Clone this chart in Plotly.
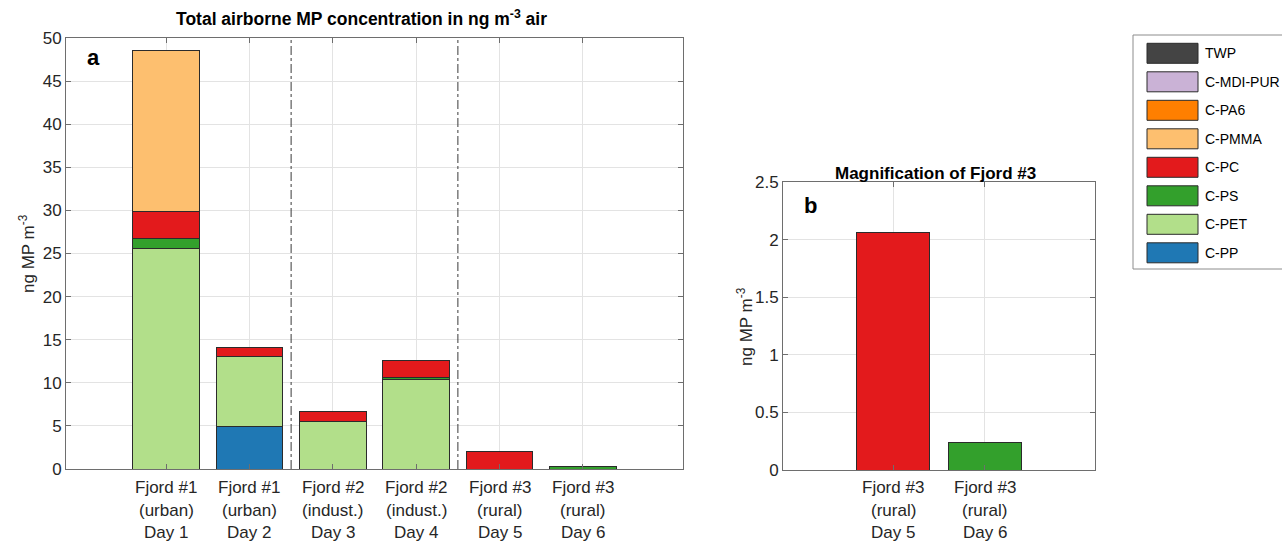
import plotly.graph_objects as go

W, H = 1282, 542

# ---------------- data ----------------
days = ["Day 1", "Day 2", "Day 3", "Day 4", "Day 5", "Day 6"]
fjords = ["Fjord #1", "Fjord #1", "Fjord #2", "Fjord #2", "Fjord #3", "Fjord #3"]
sites = ["(urban)", "(urban)", "(indust.)", "(indust.)", "(rural)", "(rural)"]

# stacking order bottom -> top
series_names = ["C-PP", "C-PET", "C-PS", "C-PC", "C-PMMA", "C-PA6", "C-MDI-PUR", "TWP"]
c_pp = [0, 4.95, 0, 0, 0, 0]
c_pet = [25.6, 8.1, 5.5, 10.4, 0, 0]
c_ps = [1.1, 0, 0, 0.25, 0, 0.24]
c_pc = [3.15, 1.1, 1.15, 1.9, 2.06, 0]
c_pmma = [18.75, 0, 0, 0, 0, 0]
c_pa6 = [0, 0, 0, 0, 0, 0]
c_mdi = [0, 0, 0, 0, 0, 0]
twp = [0, 0, 0, 0, 0, 0]
series_values = [c_pp, c_pet, c_ps, c_pc, c_pmma, c_pa6, c_mdi, twp]
series_colors = ["#1f78b4", "#b2df8a", "#33a02c", "#e31a1c", "#fdbf6f", "#ff7f00", "#cab2d6", "#444444"]

yticks_a = [0, 5, 10, 15, 20, 25, 30, 35, 40, 45, 50]
yticks_b = [0, 0.5, 1, 1.5, 2, 2.5]
ytick_text_b = ["0", "0.5", "1", "1.5", "2", "2.5"]
magnified = [4, 5]  # indices of Day 5 and Day 6

FONT = "Liberation Sans, Arial, sans-serif"
TXT = "#262626"
AX = "#6e6e6e"
GRID = "#e3e3e3"


def px(x):
    return x / W


def py(y):
    return 1 - y / H


fig = go.Figure()
xa = list(range(1, len(days) + 1))
xb = [1, 2]
for name, vals, col in zip(series_names, series_values, series_colors):
    fig.add_trace(go.Bar(
        x=xa, y=[v if v else None for v in vals], name=name, marker_color=col,
        marker_line=dict(color="#2b2b2b", width=1), width=0.8, showlegend=False,
        xaxis="x", yaxis="y"))
    fig.add_trace(go.Bar(
        x=xb, y=[vals[i] if vals[i] else None for i in magnified], name=name,
        marker_color=col, marker_line=dict(color="#2b2b2b", width=1), width=0.8,
        showlegend=False, xaxis="x2", yaxis="y2"))

axis_common = dict(showline=True, linecolor=AX, linewidth=1, mirror="ticks",
                   ticks="inside", ticklen=5, tickcolor=AX, showgrid=True,
                   gridcolor=GRID, gridwidth=1, zeroline=False, automargin=False,
                   tickfont=dict(family=FONT, size=17, color=TXT))

fig.update_layout(
    width=W, height=H, margin=dict(l=0, r=0, t=0, b=0, pad=0, autoexpand=False),
    showlegend=False,
    paper_bgcolor="white", plot_bgcolor="white", barmode="stack", bargap=0.2,
    xaxis=dict(domain=[px(66), px(683)], range=[-0.2, 7.2], tickvals=xa,
               showticklabels=False, anchor="y", **axis_common),
    yaxis=dict(domain=[py(469), py(38)], range=[0, 50], tickvals=yticks_a,
               anchor="x", **axis_common),
    xaxis2=dict(domain=[px(783), px(1095)], range=[-0.2, 3.2], tickvals=xb,
                showticklabels=False, anchor="y2", **axis_common),
    yaxis2=dict(domain=[py(470), py(182)], range=[0, 2.5], tickvals=yticks_b,
                ticktext=ytick_text_b, anchor="x2", **axis_common),
)

shapes = []
annotations = []
# dash-dot separators between fjords
for xs in [2.5, 4.5]:
    shapes.append(dict(type="line", xref="x", yref="y domain", x0=xs, x1=xs, y0=0, y1=1,
                       line=dict(color="#3a3a3a", width=1, dash="dashdot")))

# multi-line category labels
line_y = [487.5, 510, 532]


def add_labels(xref, xs, idx):
    for xv, i in zip(xs, idx):
        for txt, yy in zip([fjords[i], sites[i], days[i]], line_y):
            annotations.append(dict(xref=xref, yref="paper", x=xv, y=py(yy), text=txt,
                                    showarrow=False, xanchor="center", yanchor="middle",
                                    font=dict(family=FONT, size=17, color=TXT)))


add_labels("x", xa, list(range(len(days))))
add_labels("x2", xb, magnified)

# titles, axis labels, panel letters
annotations += [
    dict(xref="paper", yref="paper", x=px(361), y=py(18),
         text="<b>Total airborne MP concentration in ng m<sup>-3</sup> air</b>",
         showarrow=False, xanchor="center", yanchor="middle",
         font=dict(family=FONT, size=17.5, color="#000")),
    dict(xref="paper", yref="paper", x=px(935), y=py(173),
         text="<b>Magnification of Fjord #3</b>", showarrow=False,
         xanchor="center", yanchor="middle", font=dict(family=FONT, size=17, color="#000")),
    dict(xref="paper", yref="paper", x=px(27), y=py(254), text="ng MP m<sup>-3</sup>",
         textangle=-90, showarrow=False, xanchor="center", yanchor="middle",
         font=dict(family=FONT, size=17, color=TXT)),
    dict(xref="paper", yref="paper", x=px(745), y=py(327), text="ng MP m<sup>-3</sup>",
         textangle=-90, showarrow=False, xanchor="center", yanchor="middle",
         font=dict(family=FONT, size=17, color=TXT)),
    dict(xref="paper", yref="paper", x=px(93), y=py(57), text="<b>a</b>",
         showarrow=False, xanchor="center", yanchor="middle",
         font=dict(family=FONT, size=22, color="#000")),
    dict(xref="paper", yref="paper", x=px(810), y=py(206), text="<b>b</b>",
         showarrow=False, xanchor="center", yanchor="middle",
         font=dict(family=FONT, size=22, color="#000")),
]

# custom legend (MATLAB-style large swatches), top entry = top of stack
shapes.append(dict(type="rect", xref="paper", yref="paper", x0=px(1133), x1=px(1295),
                   y0=py(269), y1=py(35), line=dict(color="#8c8c8c", width=1),
                   fillcolor="white", layer="below"))
row0, row_step = 43.3, 28.5
for k, (name, col) in enumerate(zip(series_names[::-1], series_colors[::-1])):
    top = row0 + k * row_step
    shapes.append(dict(type="rect", xref="paper", yref="paper", x0=px(1147), x1=px(1198),
                       y0=py(top + 20), y1=py(top), fillcolor=col,
                       line=dict(color="#2b2b2b", width=1)))
    annotations.append(dict(xref="paper", yref="paper", x=px(1203), y=py(top + 10),
                            text=name, showarrow=False, xanchor="left", yanchor="middle",
                            font=dict(family=FONT, size=14, color="#000")))

fig.update_layout(shapes=shapes, annotations=annotations)
fig.write_html("out.html")
